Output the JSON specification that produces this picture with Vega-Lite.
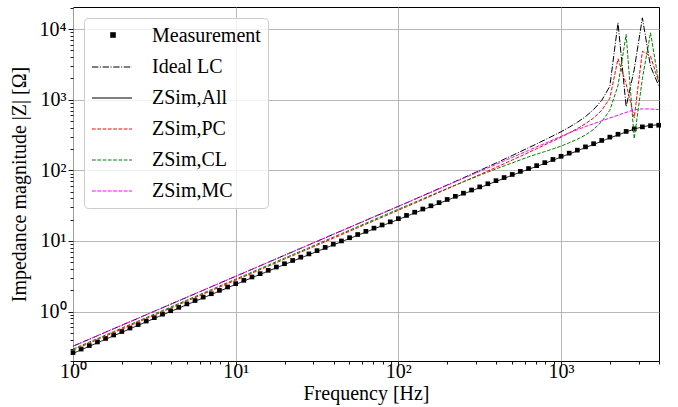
{
  "$schema": "https://vega.github.io/schema/vega-lite/v6.json",
  "width": 586,
  "height": 354,
  "autosize": {"type": "none"},
  "padding": {"left": 73, "top": 7, "right": 19, "bottom": 46},
  "background": "white",
  "config": {
    "font": "Liberation Serif",
    "view": {"stroke": "black", "strokeWidth": 1},
    "axis": {
      "domain": false,
      "grid": true,
      "gridColor": "#b0b0b0",
      "gridWidth": 0.9,
      "tickColor": "black",
      "tickWidth": 0.9,
      "labelFont": "Liberation Serif",
      "labelFontSize": 20,
      "labelColor": "black",
      "labelOverlap": false,
      "labelFlush": false,
      "titleFont": "Liberation Serif",
      "titleFontSize": 20,
      "titleFontWeight": "normal",
      "titleColor": "black"
    },
    "legend": {
      "labelFont": "Liberation Serif",
      "labelFontSize": 20,
      "labelColor": "black",
      "labelOffset": 39,
      "labelLimit": 300,
      "rowPadding": 10,
      "symbolSize": 400,
      "symbolStrokeWidth": 1.2
    }
  },
  "data": {
    "values": [
      {"f": 1, "meas": 0.263, "all": 0.256, "ideal": 0.324, "pc": 0.285, "cl": 0.295, "mc": 0.324},
      {"f": 1.122, "meas": 0.295, "all": 0.288, "ideal": 0.363, "pc": 0.32, "cl": 0.331, "mc": 0.363},
      {"f": 1.259, "meas": 0.331, "all": 0.323, "ideal": 0.406, "pc": 0.358, "cl": 0.371, "mc": 0.406},
      {"f": 1.413, "meas": 0.372, "all": 0.362, "ideal": 0.456, "pc": 0.401, "cl": 0.415, "mc": 0.456},
      {"f": 1.585, "meas": 0.417, "all": 0.406, "ideal": 0.511, "pc": 0.45, "cl": 0.466, "mc": 0.511},
      {"f": 1.778, "meas": 0.467, "all": 0.455, "ideal": 0.572, "pc": 0.504, "cl": 0.522, "mc": 0.572},
      {"f": 1.995, "meas": 0.523, "all": 0.51, "ideal": 0.641, "pc": 0.565, "cl": 0.585, "mc": 0.641},
      {"f": 2.239, "meas": 0.586, "all": 0.571, "ideal": 0.719, "pc": 0.633, "cl": 0.656, "mc": 0.719},
      {"f": 2.512, "meas": 0.656, "all": 0.64, "ideal": 0.805, "pc": 0.71, "cl": 0.734, "mc": 0.805},
      {"f": 2.818, "meas": 0.735, "all": 0.716, "ideal": 0.903, "pc": 0.795, "cl": 0.823, "mc": 0.903},
      {"f": 3.162, "meas": 0.822, "all": 0.802, "ideal": 1.012, "pc": 0.891, "cl": 0.923, "mc": 1.012},
      {"f": 3.548, "meas": 0.92, "all": 0.897, "ideal": 1.134, "pc": 0.999, "cl": 1.034, "mc": 1.134},
      {"f": 3.981, "meas": 1.029, "all": 1.003, "ideal": 1.271, "pc": 1.119, "cl": 1.159, "mc": 1.271},
      {"f": 4.467, "meas": 1.15, "all": 1.121, "ideal": 1.424, "pc": 1.255, "cl": 1.299, "mc": 1.424},
      {"f": 5.012, "meas": 1.286, "all": 1.254, "ideal": 1.596, "pc": 1.406, "cl": 1.455, "mc": 1.596},
      {"f": 5.623, "meas": 1.436, "all": 1.4, "ideal": 1.789, "pc": 1.576, "cl": 1.631, "mc": 1.789},
      {"f": 6.31, "meas": 1.604, "all": 1.564, "ideal": 2.004, "pc": 1.766, "cl": 1.828, "mc": 2.004},
      {"f": 7.079, "meas": 1.791, "all": 1.746, "ideal": 2.247, "pc": 1.979, "cl": 2.049, "mc": 2.247},
      {"f": 7.943, "meas": 2.0, "all": 1.95, "ideal": 2.518, "pc": 2.218, "cl": 2.296, "mc": 2.518},
      {"f": 8.913, "meas": 2.231, "all": 2.175, "ideal": 2.822, "pc": 2.486, "cl": 2.573, "mc": 2.822},
      {"f": 10, "meas": 2.489, "all": 2.427, "ideal": 3.162, "pc": 2.786, "cl": 2.884, "mc": 3.162},
      {"f": 11.22, "meas": 2.776, "all": 2.707, "ideal": 3.544, "pc": 3.123, "cl": 3.232, "mc": 3.544},
      {"f": 12.59, "meas": 3.094, "all": 3.017, "ideal": 3.972, "pc": 3.499, "cl": 3.622, "mc": 3.972},
      {"f": 14.13, "meas": 3.448, "all": 3.362, "ideal": 4.452, "pc": 3.922, "cl": 4.06, "mc": 4.452},
      {"f": 15.85, "meas": 3.842, "all": 3.746, "ideal": 4.989, "pc": 4.395, "cl": 4.55, "mc": 4.989},
      {"f": 17.78, "meas": 4.279, "all": 4.172, "ideal": 5.592, "pc": 4.926, "cl": 5.1, "mc": 5.592},
      {"f": 19.95, "meas": 4.763, "all": 4.644, "ideal": 6.268, "pc": 5.522, "cl": 5.716, "mc": 6.268},
      {"f": 22.39, "meas": 5.302, "all": 5.169, "ideal": 7.025, "pc": 6.189, "cl": 6.406, "mc": 7.025},
      {"f": 25.12, "meas": 5.899, "all": 5.752, "ideal": 7.871, "pc": 6.934, "cl": 7.178, "mc": 7.871},
      {"f": 28.18, "meas": 6.56, "all": 6.396, "ideal": 8.822, "pc": 7.772, "cl": 8.045, "mc": 8.822},
      {"f": 31.62, "meas": 7.295, "all": 7.113, "ideal": 9.886, "pc": 8.709, "cl": 9.016, "mc": 9.886},
      {"f": 35.48, "meas": 8.108, "all": 7.905, "ideal": 11.08, "pc": 9.762, "cl": 10.11, "mc": 11.08},
      {"f": 39.81, "meas": 9.01, "all": 8.785, "ideal": 12.42, "pc": 10.94, "cl": 11.32, "mc": 12.42},
      {"f": 44.67, "meas": 10.01, "all": 9.76, "ideal": 13.92, "pc": 12.26, "cl": 12.69, "mc": 13.92},
      {"f": 50.12, "meas": 11.11, "all": 10.83, "ideal": 15.6, "pc": 13.74, "cl": 14.22, "mc": 15.6},
      {"f": 56.23, "meas": 12.34, "all": 12.03, "ideal": 17.48, "pc": 15.4, "cl": 15.94, "mc": 17.48},
      {"f": 63.1, "meas": 13.69, "all": 13.35, "ideal": 19.59, "pc": 17.26, "cl": 17.86, "mc": 19.59},
      {"f": 70.79, "meas": 15.19, "all": 14.81, "ideal": 21.95, "pc": 19.34, "cl": 20.02, "mc": 21.95},
      {"f": 79.43, "meas": 16.85, "all": 16.43, "ideal": 24.6, "pc": 21.68, "cl": 22.44, "mc": 24.6},
      {"f": 89.13, "meas": 18.67, "all": 18.2, "ideal": 27.58, "pc": 24.29, "cl": 25.15, "mc": 27.58},
      {"f": 100, "meas": 20.7, "all": 20.18, "ideal": 30.9, "pc": 27.23, "cl": 28.18, "mc": 30.9},
      {"f": 112.2, "meas": 22.99, "all": 22.42, "ideal": 34.68, "pc": 30.52, "cl": 31.55, "mc": 34.64},
      {"f": 125.9, "meas": 25.53, "all": 24.89, "ideal": 38.91, "pc": 34.28, "cl": 35.32, "mc": 38.82},
      {"f": 141.3, "meas": 28.33, "all": 27.62, "ideal": 43.71, "pc": 38.51, "cl": 39.54, "mc": 43.51},
      {"f": 158.5, "meas": 31.45, "all": 30.66, "ideal": 49.09, "pc": 43.26, "cl": 44.26, "mc": 48.75},
      {"f": 177.8, "meas": 34.87, "all": 34.0, "ideal": 55.16, "pc": 48.59, "cl": 49.55, "mc": 54.65},
      {"f": 199.5, "meas": 38.68, "all": 37.71, "ideal": 61.96, "pc": 54.6, "cl": 55.34, "mc": 61.25},
      {"f": 223.9, "meas": 42.87, "all": 41.8, "ideal": 69.69, "pc": 61.33, "cl": 61.8, "mc": 68.65},
      {"f": 251.2, "meas": 47.5, "all": 46.31, "ideal": 78.35, "pc": 68.87, "cl": 69.02, "mc": 76.92},
      {"f": 281.8, "meas": 52.63, "all": 51.31, "ideal": 88.32, "pc": 77.37, "cl": 76.74, "mc": 86.21},
      {"f": 316.2, "meas": 58.29, "all": 56.83, "ideal": 99.55, "pc": 86.91, "cl": 85.11, "mc": 96.61},
      {"f": 354.8, "meas": 64.53, "all": 62.92, "ideal": 112.4, "pc": 97.89, "cl": 94.41, "mc": 108.3},
      {"f": 398.1, "meas": 71.41, "all": 69.62, "ideal": 126.7, "pc": 110.2, "cl": 104.7, "mc": 121.3},
      {"f": 446.7, "meas": 79.0, "all": 77.03, "ideal": 143.4, "pc": 124.0, "cl": 115.6, "mc": 136.0},
      {"f": 501.2, "meas": 87.38, "all": 85.2, "ideal": 162.2, "pc": 140.0, "cl": 127.4, "mc": 152.4},
      {"f": 562.3, "meas": 96.61, "all": 94.19, "ideal": 183.9, "pc": 158.0, "cl": 140.6, "mc": 170.8},
      {"f": 631.0, "meas": 106.0, "all": 103.4, "ideal": 208.4, "pc": 178.7, "cl": 154.9, "mc": 191.4},
      {"f": 707.9, "meas": 116.5, "all": 113.6, "ideal": 236.9, "pc": 202.2, "cl": 169.0, "mc": 214.6},
      {"f": 794.3, "meas": 128.5, "all": 125.3, "ideal": 269.7, "pc": 229.1, "cl": 184.1, "mc": 240.4},
      {"f": 891.3, "meas": 142.5, "all": 138.9, "ideal": 307.3, "pc": 259.7, "cl": 200.9, "mc": 269.5},
      {"f": 1000, "meas": 158.0, "all": 154.1, "ideal": 351.6, "pc": 295.1, "cl": 219.8, "mc": 302.0},
      {"f": 1122, "meas": 175, "all": 170.6, "ideal": 407, "pc": 339, "cl": 245.5, "mc": 339},
      {"f": 1259, "meas": 193, "all": 188.2, "ideal": 479, "pc": 389, "cl": 275.4, "mc": 376},
      {"f": 1413, "meas": 215, "all": 210.6, "ideal": 575, "pc": 457, "cl": 316.2, "mc": 417},
      {"f": 1585, "meas": 238, "all": 232.1, "ideal": 724, "pc": 550, "cl": 380.2, "mc": 457},
      {"f": 1778, "meas": 265, "all": 258.4, "ideal": 977, "pc": 708, "cl": 489.8, "mc": 501},
      {"f": 1995, "meas": 295, "all": 287.6, "ideal": 1549, "pc": 1047, "cl": 707.9, "mc": 550},
      {"f": 2239, "meas": 324, "all": 316, "ideal": 12250, "pc": 3790, "cl": 1585, "mc": 603},
      {"f": 2512, "meas": 355, "all": 350, "ideal": 794, "pc": 1660, "cl": 8356, "mc": 661},
      {"f": 2818, "meas": 386, "all": 383, "ideal": 2690, "pc": 555, "cl": 279.9, "mc": 716},
      {"f": 3162, "meas": 412, "all": 413, "ideal": 14400, "pc": 4850, "cl": 1995, "mc": 741},
      {"f": 3548, "meas": 428, "all": 432, "ideal": 2950, "pc": 4120, "cl": 8831, "mc": 738},
      {"f": 3981, "meas": 435, "all": 441, "ideal": 1585, "pc": 1780, "cl": 1799, "mc": 724}
    ]
  },
  "encoding": {
    "x": {
      "field": "f",
      "type": "quantitative",
      "scale": {"type": "log", "domain": [1, 4000], "nice": false},
      "axis": {
        "title": "Frequency [Hz]",
        "values": [1, 2, 3, 4, 5, 6, 7, 8, 9, 10, 20, 30, 40, 50, 60, 70, 80, 90, 100, 200, 300, 400, 500, 600, 700, 800, 900, 1000, 2000, 3000, 4000],
        "labelExpr": "abs(log(datum.value)/LN10 - round(log(datum.value)/LN10)) < 0.001 ? '10' + ['⁰','¹','²','³','⁴'][round(log(datum.value)/LN10)] : ''",
        "gridOpacity": {"condition": {"test": "abs(log(datum.value)/LN10 - round(log(datum.value)/LN10)) < 0.001", "value": 1}, "value": 0},
        "tickSize": {"condition": {"test": "abs(log(datum.value)/LN10 - round(log(datum.value)/LN10)) < 0.001", "value": 5}, "value": 3},
        "labelPadding": -5,
        "titlePadding": 2
      }
    },
    "y": {
      "field": "z",
      "type": "quantitative",
      "scale": {"type": "log", "domain": [0.2, 20500], "nice": false},
      "axis": {
        "title": "Impedance magnitude |Z| [Ω]",
        "values": [0.2, 0.3, 0.4, 0.5, 0.6, 0.7, 0.8, 0.9, 1, 2, 3, 4, 5, 6, 7, 8, 9, 10, 20, 30, 40, 50, 60, 70, 80, 90, 100, 200, 300, 400, 500, 600, 700, 800, 900, 1000, 2000, 3000, 4000, 5000, 6000, 7000, 8000, 9000, 10000, 20000],
        "labelExpr": "abs(log(datum.value)/LN10 - round(log(datum.value)/LN10)) < 0.001 ? '10' + ['⁰','¹','²','³','⁴'][round(log(datum.value)/LN10)] : ''",
        "gridOpacity": {"condition": {"test": "abs(log(datum.value)/LN10 - round(log(datum.value)/LN10)) < 0.001", "value": 1}, "value": 0},
        "tickSize": {"condition": {"test": "abs(log(datum.value)/LN10 - round(log(datum.value)/LN10)) < 0.001", "value": 5}, "value": 3},
        "labelPadding": 2,
        "titlePadding": 10
      }
    }
  },
  "layer": [
    {
      "transform": [{"fold": ["meas"], "as": ["series", "z"]}],
      "mark": {"type": "point", "shape": "square", "filled": true, "size": 22, "opacity": 1},
      "encoding": {
        "fill": {
          "field": "series",
          "type": "nominal",
          "scale": {"domain": ["meas"], "range": ["black"]},
          "legend": {
            "title": null,
            "orient": "none",
            "legendX": 20,
            "legendY": 18,
            "padding": 0,
            "zindex": 2,
            "symbolType": "M0.72,-0.28H1.28V0.28H0.72Z",
            "symbolSize": 400,
            "symbolStrokeWidth": 0,
            "symbolOpacity": 1,
            "labelExpr": "''"
          }
        }
      }
    },
    {
      "transform": [{"fold": ["ideal", "all", "pc", "cl", "mc"], "as": ["series", "z"]}],
      "mark": {"type": "line", "strokeWidth": 1},
      "encoding": {
        "color": {
          "field": "series",
          "type": "nominal",
          "scale": {
            "domain": ["meas", "ideal", "all", "pc", "cl", "mc"],
            "range": ["black", "black", "black", "#ff0000", "#008000", "#ff00ff"]
          },
          "legend": {
            "title": null,
            "orient": "top-left",
            "offset": 11,
            "padding": 7,
            "zindex": 1,
            "fillColor": "rgba(255,255,255,0.8)",
            "strokeColor": "#cccccc",
            "cornerRadius": 4,
            "symbolType": "M-1,0H3",
            "symbolSize": 400,
            "labelExpr": "datum.value === 'meas' ? 'Measurement' : datum.value === 'ideal' ? 'Ideal LC' : datum.value === 'all' ? 'ZSim,All' : datum.value === 'pc' ? 'ZSim,PC' : datum.value === 'cl' ? 'ZSim,CL' : 'ZSim,MC'"
          }
        },
        "strokeDash": {
          "field": "series",
          "type": "nominal",
          "scale": {
            "domain": ["meas", "ideal", "all", "pc", "cl", "mc"],
            "range": [[0, 100], [6.4, 1.6, 1, 1.6], [1, 0], [3.7, 1.6], [3.7, 1.6], [3.7, 1.6]]
          },
          "legend": {
            "title": null,
            "orient": "top-left",
            "offset": 11,
            "padding": 7,
            "zindex": 1,
            "fillColor": "rgba(255,255,255,0.8)",
            "strokeColor": "#cccccc",
            "cornerRadius": 4,
            "symbolType": "M-1,0H3",
            "symbolSize": 400,
            "labelExpr": "datum.value === 'meas' ? 'Measurement' : datum.value === 'ideal' ? 'Ideal LC' : datum.value === 'all' ? 'ZSim,All' : datum.value === 'pc' ? 'ZSim,PC' : datum.value === 'cl' ? 'ZSim,CL' : 'ZSim,MC'"
          }
        }
      }
    }
  ]
}
